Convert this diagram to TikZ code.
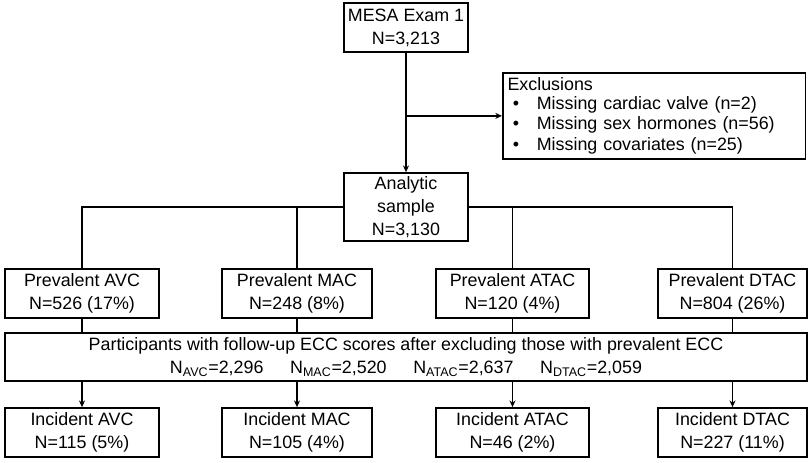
\documentclass[tikz,border=0pt]{standalone}
\usepackage{fontspec}
\setmainfont{Liberation Sans}
\usetikzlibrary{arrows.meta, calc, positioning}
\tikzset{
  fcline/.style={line width=1.3pt},
  fcarrow/.style={fcline, -{Stealth[length=5pt, width=4.5pt]}},
  fcbox/.style={rectangle, draw, line width=1.3pt, align=center, inner sep=0pt,
    minimum height=36.75pt, font=\fontsize{13.4}{17.25}\selectfont},
}
\newcommand{\fcbullet}{\hspace*{4pt}\makebox[18pt][l]{\textbullet}}

\begin{document}
\begin{tikzpicture}[x=0.75pt, y=-0.75pt]
  \useasboundingbox (0,0) rectangle (811,462);

  % Cohort and exclusions.
  \node[fcbox, minimum width=93pt] (mesa) at (406,27.5) {MESA Exam 1\\N=3,213};
  \node[fcbox, minimum width=93pt, minimum height=51pt] (ana) at (406,207) {Analytic\\sample\\N=3,130};
  \node[fcbox, anchor=north west, align=left, text width=220pt, inner xsep=3.5pt,
    minimum height=64.5pt, font=\fontsize{13.4}{15.4}\selectfont] (excl) at (502,72)
    {\raisebox{-1.5pt}{Exclusions}\\
     \fcbullet Missing cardiac valve (n=2)\\
     \fcbullet Missing sex hormones (n=56)\\
     \fcbullet Missing covariates (n=25)};

  % Prevalent calcification.
  \node[fcbox, minimum width=116pt] (pavc) at (82,293.5) {Prevalent AVC\\N=526 (17\%)};
  \node[fcbox, minimum width=112.5pt] (pmac) at (297,293.5) {Prevalent MAC\\N=248 (8\%)};
  \node[fcbox, minimum width=115pt] (patac) at (512.5,293.5) {Prevalent ATAC\\N=120 (4\%)};
  \node[fcbox, minimum width=112pt] (pdtac) at (732.5,293.5) {Prevalent DTAC\\N=804 (26\%)};

  % Follow-up sample.
  \node[fcbox, minimum width=601.5pt, minimum height=36pt] (ecc) at (406,357)
    {Participants with follow-up ECC scores after excluding those with prevalent ECC\\
     N\textsubscript{AVC}=2,296\hspace{20pt}N\textsubscript{MAC}=2,520\hspace{20pt}%
     N\textsubscript{ATAC}=2,637\hspace{20pt}N\textsubscript{DTAC}=2,059};

  % Incident calcification.
  \node[fcbox, minimum width=115.5pt] (iavc) at (82,432.5) {Incident AVC\\N=115 (5\%)};
  \node[fcbox, minimum width=112.5pt] (imac) at (297,432.5) {Incident MAC\\N=105 (4\%)};
  \node[fcbox, minimum width=115pt] (iatac) at (512.5,432.5) {Incident ATAC\\N=46 (2\%)};
  \node[fcbox, minimum width=112pt] (idtac) at (732.5,432.5) {Incident DTAC\\N=227 (11\%)};

  % Connectors.
  \draw[fcarrow] (mesa) -- (ana);
  \draw[fcarrow] (mesa.south |- excl.west) -- (excl.west);
  \draw[fcline] (pavc.north) -- (pavc.north |- ana.west) -- (ana.west);
  \draw[fcline] (ana.east) -- (pdtac.north |- ana.east) -- (pdtac.north);
  \draw[fcline] (pmac.north) -- (pmac.north |- ana.west);
  \draw[fcline] (patac.north) -- (patac.north |- ana.east);
  \foreach \p in {pavc, pmac, patac, pdtac}
    \draw[fcline] (\p.south) -- (\p.south |- ecc.north);
  \foreach \i in {iavc, imac, iatac, idtac}
    \draw[fcarrow] (ecc.south -| \i.north) -- (\i.north);
\end{tikzpicture}
\end{document}
